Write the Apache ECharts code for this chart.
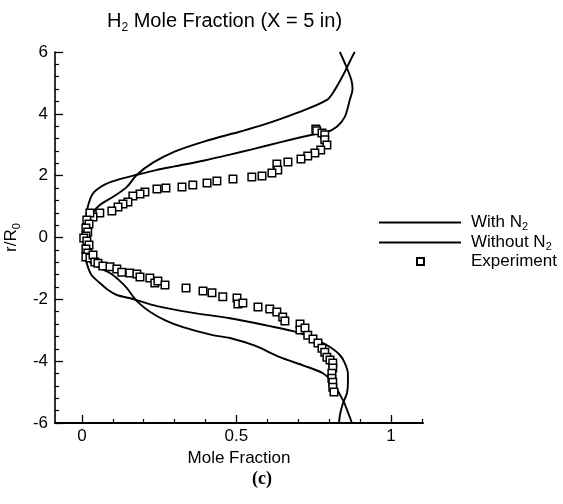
<!DOCTYPE html>
<html>
<head>
<meta charset="utf-8">
<script src="https://cdn.jsdelivr.net/npm/echarts@6/dist/echarts.min.js"></script>
<style>
html,body{margin:0;padding:0;background:#fff;}
#chart{width:563px;height:504px;}
</style>
</head>
<body>
<div id="chart"></div>
<script>
// ---- data ----
var withN2 = [
  [0.835,6.0],[0.857,5.5],[0.872,5.1],[0.876,4.8],[0.867,4.45],[0.851,3.9],[0.825,3.58],
  [0.793,3.41],[0.748,3.33],[0.65,3.1],[0.55,2.85],[0.479,2.68],[0.40,2.5],[0.30,2.3],
  [0.24,2.18],[0.178,2.03],[0.12,1.88],[0.08,1.74],[0.05,1.56],[0.034,1.4],[0.022,1.1],
  [0.015,0.79],[0.01,0.4],[0.008,0.0],[0.01,-0.4],[0.013,-0.73],[0.03,-1.2],[0.058,-1.47],
  [0.085,-1.7],[0.113,-1.86],[0.165,-1.99],[0.243,-2.22],[0.35,-2.42],[0.479,-2.61],
  [0.6,-2.85],[0.696,-3.06],[0.75,-3.27],[0.803,-3.54],[0.835,-3.8],[0.851,-4.06],
  [0.861,-4.4],[0.861,-4.71],[0.858,-5.03],[0.845,-5.36],[0.836,-5.7],[0.832,-6.0]
];
var withoutN2 = [
  [0.883,6.0],[0.87,5.75],[0.858,5.5],[0.84,5.15],[0.82,4.8],[0.793,4.45],[0.696,4.03],
  [0.586,3.64],[0.51,3.42],[0.40,3.12],[0.30,2.78],[0.23,2.42],[0.178,2.03],[0.145,1.63],
  [0.10,1.31],[0.058,1.05],[0.035,0.8],[0.022,0.5],[0.018,0.0],[0.022,-0.5],[0.026,-0.79],
  [0.06,-1.0],[0.091,-1.15],[0.12,-1.38],[0.145,-1.63],[0.165,-1.9],[0.181,-2.09],
  [0.22,-2.4],[0.27,-2.68],[0.327,-2.9],[0.42,-3.15],[0.479,-3.25],[0.56,-3.5],
  [0.641,-3.87],[0.72,-4.15],[0.78,-4.39],[0.812,-4.71],[0.845,-5.26],[0.867,-5.81],[0.874,-6.0]
];
var experiment = [
  [0.757,3.51],[0.760,3.45],[0.777,3.38],[0.786,3.32],[0.786,3.16],[0.793,2.99],[0.773,2.83],
  [0.754,2.73],[0.731,2.64],[0.709,2.54],[0.667,2.44],[0.631,2.38],[0.634,2.18],[0.615,2.09],
  [0.583,1.99],[0.550,1.96],[0.489,1.89],[0.437,1.83],[0.405,1.76],[0.359,1.70],[0.324,1.63],
  [0.272,1.60],[0.243,1.57],[0.204,1.47],[0.188,1.41],[0.165,1.34],[0.149,1.15],[0.133,1.08],
  [0.117,0.99],[0.097,0.86],[0.058,0.79],[0.036,0.66],[0.026,0.79],
  [0.016,0.57],[0.023,0.44],[0.013,0.31],[0.019,0.18],[0.013,0.05],[0.006,-0.02],[0.016,-0.11],
  [0.023,-0.24],[0.013,-0.37],[0.019,-0.50],[0.013,-0.63],
  [0.026,-0.66],[0.036,-0.57],[0.042,-0.79],[0.052,-0.83],[0.068,-0.92],[0.091,-0.95],
  [0.113,-1.02],[0.129,-1.12],[0.155,-1.15],[0.178,-1.18],[0.188,-1.28],[0.220,-1.31],
  [0.236,-1.47],[0.246,-1.41],[0.269,-1.54],[0.337,-1.63],[0.392,-1.73],[0.421,-1.79],
  [0.456,-1.92],[0.502,-1.96],[0.505,-2.15],[0.521,-2.12],[0.570,-2.25],[0.608,-2.31],
  [0.631,-2.41],[0.650,-2.57],[0.657,-2.70],[0.706,-2.80],[0.706,-2.99],[0.722,-2.93],
  [0.731,-3.16],[0.748,-3.28],[0.764,-3.41],[0.777,-3.58],[0.786,-3.71],[0.793,-3.87],
  [0.803,-3.96],[0.812,-4.06],[0.812,-4.22],[0.809,-4.39],[0.809,-4.55],[0.812,-4.68],
  [0.812,-4.84],[0.816,-5.0]
];
var xMajorTicks = [0, 0.5, 1];
var xMinorTicks = [0.1,0.2,0.3,0.4,0.6,0.7,0.8,0.9,1.1];
var seriesNames = ['With N2', 'Without N2', 'Experiment'];

// ---- chart ----
var FONT = 'Liberation Sans, Arial, sans-serif';
var chart = echarts.init(document.getElementById('chart'), null, {renderer: 'canvas'});
function subStyle(lh) {
  return {sub: {fontSize: 11, fontFamily: FONT, color: '#000', verticalAlign: 'bottom', lineHeight: lh}};
}
function legendFmt(name) {
  return name.replace(/N2$/, 'N{sub|2}');
}
var option = {
  backgroundColor: '#fff',
  animation: false,
  title: {
    text: 'H{sub|2} Mole Fraction (X = 5 in)',
    left: 107, top: 8, padding: 0,
    textStyle: {
      fontFamily: FONT, fontSize: 20, fontWeight: 'normal', color: '#000', lineHeight: 26,
      rich: {sub: {fontSize: 12, fontFamily: FONT, color: '#000', verticalAlign: 'bottom', lineHeight: 14}}
    }
  },
  legend: [{
    data: [seriesNames[0], seriesNames[1]],
    orient: 'vertical', left: 378, top: 213, padding: 0,
    itemWidth: 82, itemHeight: 14, itemGap: 1,
    itemStyle: {opacity: 0},
    formatter: legendFmt,
    textStyle: {fontFamily: FONT, fontSize: 17, color: '#000', padding: [0,0,0,5], lineHeight: 19,
      rich: subStyle(12)}
  }, {
    data: [seriesNames[2]],
    orient: 'vertical', left: 416, top: 253, padding: 0,
    itemWidth: 7, itemHeight: 7,
    textStyle: {fontFamily: FONT, fontSize: 17, color: '#000', padding: [0,0,0,42]}
  }],
  grid: {left: 55, right: 140, top: 52, bottom: 81, containLabel: false, outerBoundsMode: 'none'},
  xAxis: [{
    type: 'value', min: -0.087, max: 1.104, position: 'bottom',
    name: 'Mole Fraction', nameLocation: 'middle', nameGap: 27,
    nameTextStyle: {fontFamily: FONT, fontSize: 17, color: '#000'},
    axisLine: {show: true, onZero: false, lineStyle: {color: '#000', width: 2}},
    axisTick: {show: true, inside: true, length: 8, customValues: xMajorTicks, lineStyle: {color: '#000', width: 1.3}},
    axisLabel: {show: true, customValues: xMajorTicks, margin: 5, fontFamily: FONT, fontSize: 17, color: '#000',
      formatter: function (v) { return String(v); }},
    splitLine: {show: false}
  }, {
    type: 'value', min: -0.087, max: 1.104, position: 'bottom', gridIndex: 0,
    axisLine: {show: false, onZero: false},
    axisTick: {show: true, inside: true, length: 4, customValues: xMinorTicks, lineStyle: {color: '#000', width: 1.2}},
    axisLabel: {show: false},
    splitLine: {show: false}
  }],
  yAxis: {
    type: 'value', min: -6, max: 6, interval: 2,
    name: 'r/R{sub|0}', nameLocation: 'middle', nameGap: 30, nameRotate: 90,
    nameTextStyle: {fontFamily: FONT, fontSize: 17, color: '#000', lineHeight: 22, rich: subStyle(12)},
    axisLine: {show: true, onZero: false, lineStyle: {color: '#000', width: 1.6}},
    axisTick: {show: true, inside: true, length: 8, lineStyle: {color: '#000', width: 1.3}},
    minorTick: {show: true, splitNumber: 5, length: 4, lineStyle: {color: '#000', width: 1.2}},
    axisLabel: {margin: 7, fontFamily: FONT, fontSize: 17, color: '#000'},
    splitLine: {show: false},
    minorSplitLine: {show: false}
  },
  graphic: [{
    type: 'text', left: 252, top: 470,
    style: {text: '(c)', font: 'bold 18px "Liberation Serif", "Times New Roman", serif', fill: '#000'}
  }],
  series: [{
    name: seriesNames[0], type: 'line', data: withN2, symbol: 'none', smooth: 0.3,
    lineStyle: {color: '#000', width: 1.9}, itemStyle: {color: '#000'}, z: 2
  }, {
    name: seriesNames[1], type: 'line', data: withoutN2, symbol: 'none', smooth: 0.3,
    lineStyle: {color: '#000', width: 1.9}, itemStyle: {color: '#000'}, z: 2
  }, {
    name: seriesNames[2], type: 'scatter', data: experiment, symbol: 'rect', symbolSize: 7.5,
    itemStyle: {color: '#fff', borderColor: '#000', borderWidth: 1.5, opacity: 1}, z: 3
  }]
};
chart.setOption(option);
</script>
</body>
</html>
